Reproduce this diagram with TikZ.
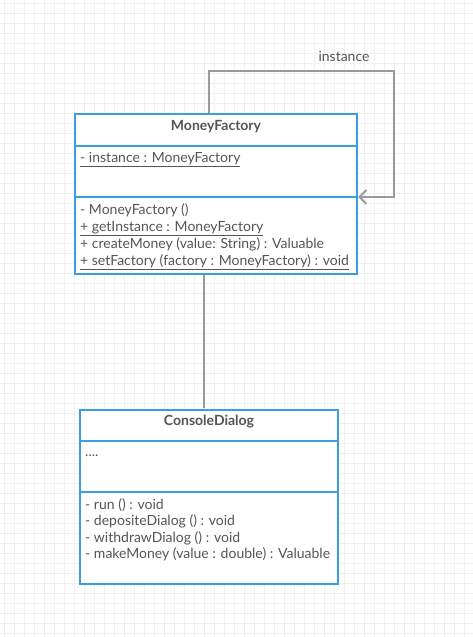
\documentclass[tikz,border=0pt]{standalone}
\usepackage{fontspec}
\setmainfont{Lato}
\usetikzlibrary{arrows.meta}
\definecolor{gridc}{HTML}{F0F0F0}
\definecolor{boxc}{HTML}{3A9FDB}
\definecolor{txtc}{HTML}{555555}
\definecolor{linec}{HTML}{999999}
\tikzset{
  classbox/.style={draw=boxc, line width=2pt, fill=white, rectangle, inner sep=0pt},
  divider/.style={draw=boxc, line width=2pt},
  conn/.style={draw=linec, line width=2pt},
  title/.style={font=\fontsize{14}{16}\selectfont\bfseries, text=txtc, inner sep=0pt},
  member/.style={font=\fontsize{14}{16}\selectfont, text=txtc, anchor=base west, inner sep=0pt},
  lbl/.style={font=\fontsize{14}{16}\selectfont, text=txtc, inner sep=0pt},
}
\begin{document}
\begin{tikzpicture}[x=1pt,y=-1pt]
\useasboundingbox (0,0) rectangle (473,637);
\fill[white] (0,0) rectangle (473,637);
\foreach \i in {0,...,46} {\draw[gridc, line width=0.7pt] (4.5+10*\i,0) -- (4.5+10*\i,637);}
\foreach \j in {0,...,63} {\draw[gridc, line width=0.7pt] (0,3.5+10*\j) -- (473,3.5+10*\j);}
% MoneyFactory
\node[classbox, minimum width=282pt, minimum height=160pt] (mf) at (216,194) {};
\draw[divider] (75,145.5) -- (357,145.5);
\draw[divider] (75,197) -- (357,197);
\node[title] (mft) at (216,127) {MoneyFactory};
\node[member] (mfa) at (80,162) {\underline{- instance : MoneyFactory}};
\node[member] (mfm1) at (80,214.5) {- MoneyFactory ()};
\node[member] (mfm2) at (80,231.5) {\underline{+ getInstance : MoneyFactory}};
\node[member] (mfm3) at (80,248.5) {+ createMoney (value: String) : Valuable};
\node[member] (mfm4) at (80,265.5) {\underline{+ setFactory (factory : MoneyFactory) : void}};
% ConsoleDialog
\node[classbox, minimum width=258pt, minimum height=174pt] (cd) at (209,496.5) {};
\draw[divider] (80,440.5) -- (338,440.5);
\draw[divider] (80,492) -- (338,492);
\node[title] (cdt) at (209,421.5) {ConsoleDialog};
\node[member] (cda) at (85,456) {....};
\node[member] (cdm1) at (85,509) {- run () : void};
\node[member] (cdm2) at (85,525.5) {- depositeDialog () : void};
\node[member] (cdm3) at (85,542) {- withdrawDialog () : void};
\node[member] (cdm4) at (85,558.5) {- makeMoney (value : double) : Valuable};
% connectors
\coordinate (lstart) at (209,113);
\coordinate (lend) at (358,197);
\draw[conn, -{Straight Barb[length=7pt,width=14pt,line width=2pt]}] (lstart) |- (394,71) |- (lend);
\node[lbl] (il) at (344,56) {instance};
\coordinate (ctop) at (203.5,275);
\coordinate (cbot) at (203.5,408);
\draw[conn] (ctop) -- (cbot);
\end{tikzpicture}
\end{document}
